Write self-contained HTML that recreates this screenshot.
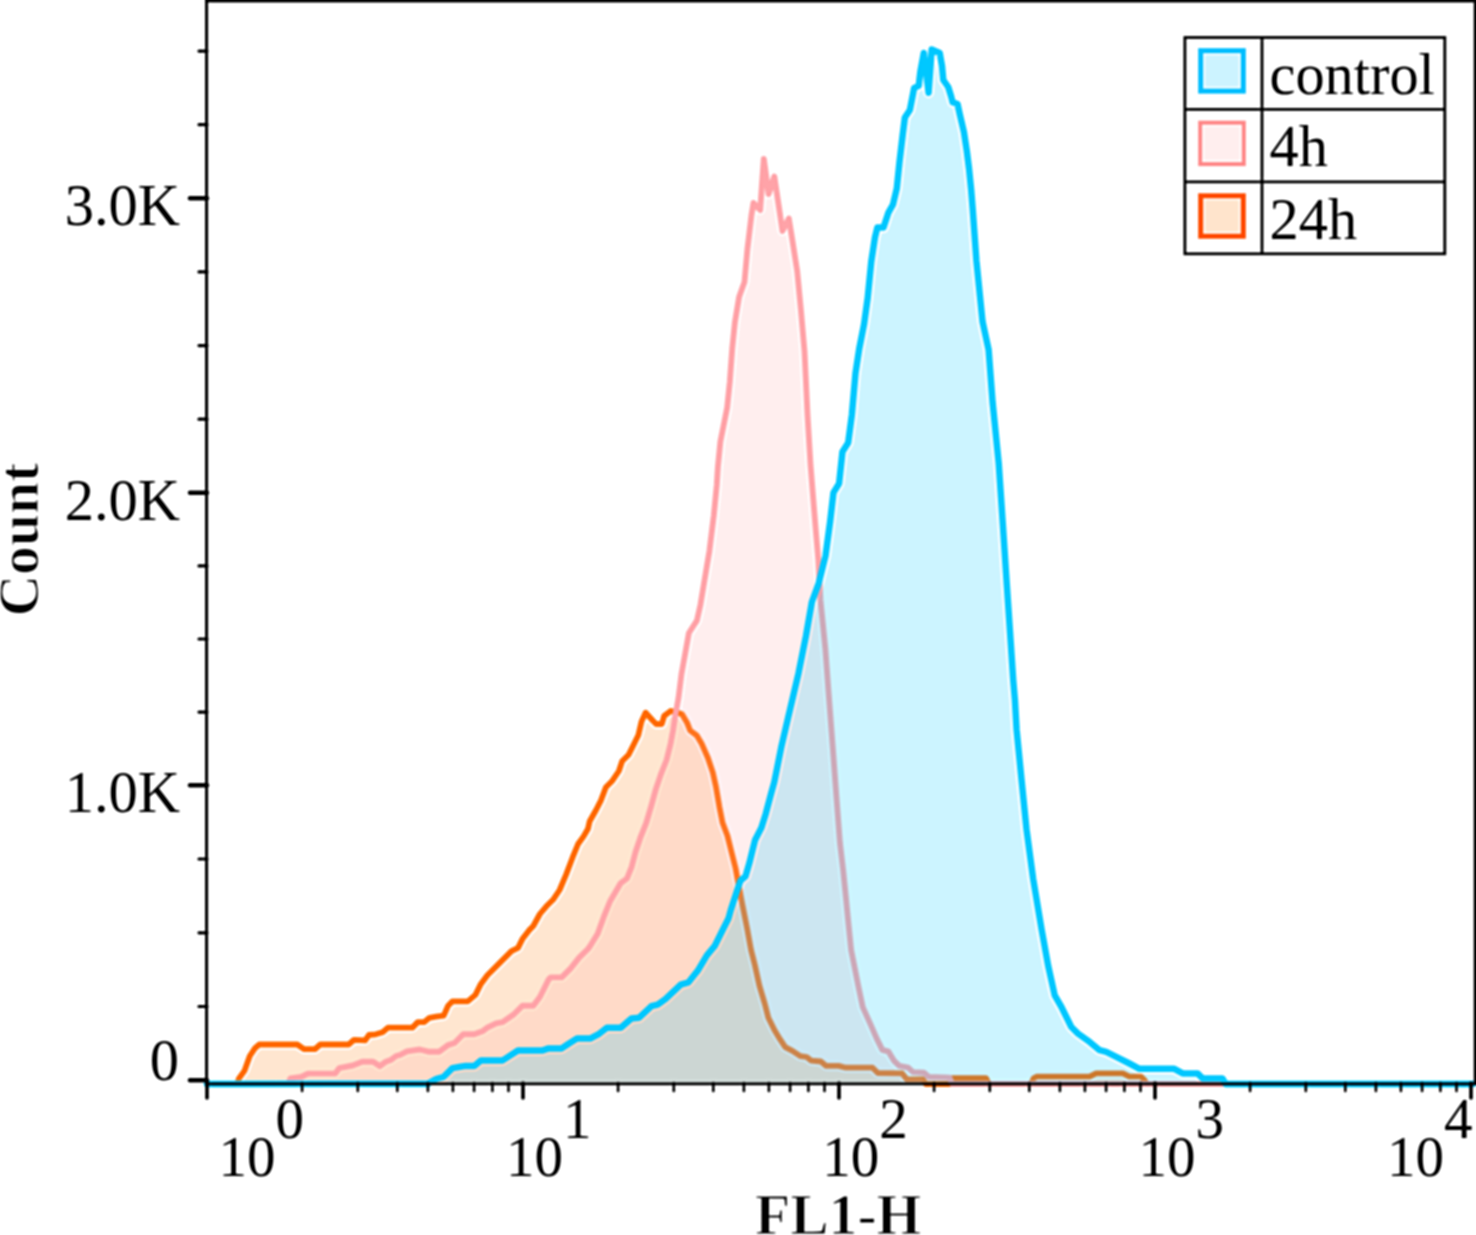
<!DOCTYPE html>
<html><head><meta charset="utf-8"><style>
html,body{margin:0;padding:0;background:#fff;}
body{width:1476px;height:1235px;overflow:hidden;position:relative;}
svg{position:absolute;left:0;top:0;display:block;}
</style></head><body>
<svg width="1476" height="1235" viewBox="0 0 1476 1235">
<defs><filter id="usm" x="-12" y="-12" width="1500" height="1259" filterUnits="userSpaceOnUse" color-interpolation-filters="sRGB">
<feGaussianBlur in="SourceGraphic" stdDeviation="1.0" result="a"/>
<feGaussianBlur in="SourceGraphic" stdDeviation="2.2" result="b"/>
<feComposite in="a" in2="b" operator="arithmetic" k1="0" k2="1.35" k3="-0.35" k4="0"/>
</filter></defs>
<rect width="1476" height="1235" fill="#fff"/>
<g filter="url(#usm)">
<rect x="-12" y="-12" width="1500" height="1259" fill="#fff"/>
<mask id="mask0" maskUnits="userSpaceOnUse" x="0" y="0" width="1476" height="1235"><path d="M237.0,1084 L237.0,1084.0 L239.0,1078.4 L244.4,1070.9 L249.8,1056.0 L255.2,1047.9 L259.3,1044.5 L297.2,1044.5 L304.0,1049.2 L314.9,1049.2 L320.3,1044.5 L348.7,1044.5 L354.1,1039.8 L365.0,1040.4 L369.0,1035.0 L375.8,1034.3 L382.6,1032.3 L388.0,1027.6 L412.4,1027.6 L417.8,1022.1 L424.0,1022.2 L429.5,1017.8 L436.1,1016.7 L443.7,1015.6 L448.1,1005.8 L452.5,1001.4 L467.8,1001.4 L475.4,994.9 L480.9,983.9 L487.4,975.2 L500.5,962.1 L511.5,951.1 L518.0,947.9 L522.4,939.1 L529.0,930.4 L533.3,926.0 L539.9,914.0 L546.4,906.3 L553.0,899.8 L559.6,890.0 L566.1,874.6 L572.7,857.2 L578.1,844.0 L583.6,836.4 L588.0,828.7 L589.7,821.2 L596.2,809.8 L601.1,800.1 L605.9,787.2 L612.4,780.7 L618.9,771.0 L622.1,761.3 L628.6,754.8 L635.1,741.8 L638.3,735.3 L641.5,721.6 L645.6,712.7 L652.9,720.8 L656.1,724.0 L661.8,724.0 L664.2,715.9 L670.7,711.0 L675.5,711.9 L682.0,714.3 L686.9,722.4 L690.1,730.5 L696.6,735.3 L701.5,743.4 L707.9,758.0 L712.8,772.6 L716.0,787.2 L719.3,806.6 L722.5,822.8 L727.4,835.7 L731.4,851.9 L735.5,868.1 L737.9,881.1 L739.5,890.0 L742.4,905.0 L747.0,928.0 L751.0,950.0 L754.8,965.0 L759.4,985.8 L764.7,1003.6 L768.3,1017.8 L774.5,1030.3 L779.9,1039.2 L785.2,1047.2 L792.3,1050.8 L800.3,1056.1 L806.6,1057.0 L811.0,1060.6 L820.8,1061.5 L826.2,1065.9 L838.6,1065.9 L845.8,1067.7 L872.5,1067.7 L877.8,1073.0 L902.0,1073.3 L906.8,1079.4 L922.7,1079.4 L926.0,1084.0 L950.0,1084.0 L952.0,1078.2 L986.0,1078.2 L989.0,1084.0 L1031.0,1084.0 L1033.7,1078.2 L1036.5,1076.7 L1089.6,1076.7 L1096.2,1073.4 L1122.8,1073.4 L1129.4,1076.7 L1141.1,1076.7 L1144.4,1080.0 L1147.0,1084.0 L1471.0,1084.0 L1471.0,1084 Z" fill="#fff"/><polyline points="237.0,1084.0 239.0,1078.4 244.4,1070.9 249.8,1056.0 255.2,1047.9 259.3,1044.5 297.2,1044.5 304.0,1049.2 314.9,1049.2 320.3,1044.5 348.7,1044.5 354.1,1039.8 365.0,1040.4 369.0,1035.0 375.8,1034.3 382.6,1032.3 388.0,1027.6 412.4,1027.6 417.8,1022.1 424.0,1022.2 429.5,1017.8 436.1,1016.7 443.7,1015.6 448.1,1005.8 452.5,1001.4 467.8,1001.4 475.4,994.9 480.9,983.9 487.4,975.2 500.5,962.1 511.5,951.1 518.0,947.9 522.4,939.1 529.0,930.4 533.3,926.0 539.9,914.0 546.4,906.3 553.0,899.8 559.6,890.0 566.1,874.6 572.7,857.2 578.1,844.0 583.6,836.4 588.0,828.7 589.7,821.2 596.2,809.8 601.1,800.1 605.9,787.2 612.4,780.7 618.9,771.0 622.1,761.3 628.6,754.8 635.1,741.8 638.3,735.3 641.5,721.6 645.6,712.7 652.9,720.8 656.1,724.0 661.8,724.0 664.2,715.9 670.7,711.0 675.5,711.9 682.0,714.3 686.9,722.4 690.1,730.5 696.6,735.3 701.5,743.4 707.9,758.0 712.8,772.6 716.0,787.2 719.3,806.6 722.5,822.8 727.4,835.7 731.4,851.9 735.5,868.1 737.9,881.1 739.5,890.0 742.4,905.0 747.0,928.0 751.0,950.0 754.8,965.0 759.4,985.8 764.7,1003.6 768.3,1017.8 774.5,1030.3 779.9,1039.2 785.2,1047.2 792.3,1050.8 800.3,1056.1 806.6,1057.0 811.0,1060.6 820.8,1061.5 826.2,1065.9 838.6,1065.9 845.8,1067.7 872.5,1067.7 877.8,1073.0 902.0,1073.3 906.8,1079.4 922.7,1079.4 926.0,1084.0 950.0,1084.0 952.0,1078.2 986.0,1078.2 989.0,1084.0 1031.0,1084.0 1033.7,1078.2 1036.5,1076.7 1089.6,1076.7 1096.2,1073.4 1122.8,1073.4 1129.4,1076.7 1141.1,1076.7 1144.4,1080.0 1147.0,1084.0 1471.0,1084.0" fill="none" stroke="#000" stroke-width="9.8" stroke-linejoin="round" stroke-linecap="round"/></mask>
<path d="M237.0,1084 L237.0,1084.0 L239.0,1078.4 L244.4,1070.9 L249.8,1056.0 L255.2,1047.9 L259.3,1044.5 L297.2,1044.5 L304.0,1049.2 L314.9,1049.2 L320.3,1044.5 L348.7,1044.5 L354.1,1039.8 L365.0,1040.4 L369.0,1035.0 L375.8,1034.3 L382.6,1032.3 L388.0,1027.6 L412.4,1027.6 L417.8,1022.1 L424.0,1022.2 L429.5,1017.8 L436.1,1016.7 L443.7,1015.6 L448.1,1005.8 L452.5,1001.4 L467.8,1001.4 L475.4,994.9 L480.9,983.9 L487.4,975.2 L500.5,962.1 L511.5,951.1 L518.0,947.9 L522.4,939.1 L529.0,930.4 L533.3,926.0 L539.9,914.0 L546.4,906.3 L553.0,899.8 L559.6,890.0 L566.1,874.6 L572.7,857.2 L578.1,844.0 L583.6,836.4 L588.0,828.7 L589.7,821.2 L596.2,809.8 L601.1,800.1 L605.9,787.2 L612.4,780.7 L618.9,771.0 L622.1,761.3 L628.6,754.8 L635.1,741.8 L638.3,735.3 L641.5,721.6 L645.6,712.7 L652.9,720.8 L656.1,724.0 L661.8,724.0 L664.2,715.9 L670.7,711.0 L675.5,711.9 L682.0,714.3 L686.9,722.4 L690.1,730.5 L696.6,735.3 L701.5,743.4 L707.9,758.0 L712.8,772.6 L716.0,787.2 L719.3,806.6 L722.5,822.8 L727.4,835.7 L731.4,851.9 L735.5,868.1 L737.9,881.1 L739.5,890.0 L742.4,905.0 L747.0,928.0 L751.0,950.0 L754.8,965.0 L759.4,985.8 L764.7,1003.6 L768.3,1017.8 L774.5,1030.3 L779.9,1039.2 L785.2,1047.2 L792.3,1050.8 L800.3,1056.1 L806.6,1057.0 L811.0,1060.6 L820.8,1061.5 L826.2,1065.9 L838.6,1065.9 L845.8,1067.7 L872.5,1067.7 L877.8,1073.0 L902.0,1073.3 L906.8,1079.4 L922.7,1079.4 L926.0,1084.0 L950.0,1084.0 L952.0,1078.2 L986.0,1078.2 L989.0,1084.0 L1031.0,1084.0 L1033.7,1078.2 L1036.5,1076.7 L1089.6,1076.7 L1096.2,1073.4 L1122.8,1073.4 L1129.4,1076.7 L1141.1,1076.7 L1144.4,1080.0 L1147.0,1084.0 L1471.0,1084.0 L1471.0,1084 Z" fill="rgb(255,130,20)" fill-opacity="0.2" stroke="none" mask="url(#mask0)"/>
<polyline points="237.0,1084.0 239.0,1078.4 244.4,1070.9 249.8,1056.0 255.2,1047.9 259.3,1044.5 297.2,1044.5 304.0,1049.2 314.9,1049.2 320.3,1044.5 348.7,1044.5 354.1,1039.8 365.0,1040.4 369.0,1035.0 375.8,1034.3 382.6,1032.3 388.0,1027.6 412.4,1027.6 417.8,1022.1 424.0,1022.2 429.5,1017.8 436.1,1016.7 443.7,1015.6 448.1,1005.8 452.5,1001.4 467.8,1001.4 475.4,994.9 480.9,983.9 487.4,975.2 500.5,962.1 511.5,951.1 518.0,947.9 522.4,939.1 529.0,930.4 533.3,926.0 539.9,914.0 546.4,906.3 553.0,899.8 559.6,890.0 566.1,874.6 572.7,857.2 578.1,844.0 583.6,836.4 588.0,828.7 589.7,821.2 596.2,809.8 601.1,800.1 605.9,787.2 612.4,780.7 618.9,771.0 622.1,761.3 628.6,754.8 635.1,741.8 638.3,735.3 641.5,721.6 645.6,712.7 652.9,720.8 656.1,724.0 661.8,724.0 664.2,715.9 670.7,711.0 675.5,711.9 682.0,714.3 686.9,722.4 690.1,730.5 696.6,735.3 701.5,743.4 707.9,758.0 712.8,772.6 716.0,787.2 719.3,806.6 722.5,822.8 727.4,835.7 731.4,851.9 735.5,868.1 737.9,881.1 739.5,890.0 742.4,905.0 747.0,928.0 751.0,950.0 754.8,965.0 759.4,985.8 764.7,1003.6 768.3,1017.8 774.5,1030.3 779.9,1039.2 785.2,1047.2 792.3,1050.8 800.3,1056.1 806.6,1057.0 811.0,1060.6 820.8,1061.5 826.2,1065.9 838.6,1065.9 845.8,1067.7 872.5,1067.7 877.8,1073.0 902.0,1073.3 906.8,1079.4 922.7,1079.4 926.0,1084.0 950.0,1084.0 952.0,1078.2 986.0,1078.2 989.0,1084.0 1031.0,1084.0 1033.7,1078.2 1036.5,1076.7 1089.6,1076.7 1096.2,1073.4 1122.8,1073.4 1129.4,1076.7 1141.1,1076.7 1144.4,1080.0 1147.0,1084.0 1471.0,1084.0" fill="none" stroke="#ff6a00" stroke-width="5.8" stroke-linejoin="round" stroke-linecap="round"/>
<mask id="mask3" maskUnits="userSpaceOnUse" x="0" y="0" width="1476" height="1235"><path d="M288.0,1084 L288.0,1084.0 L290.5,1078.4 L301.3,1077.0 L308.0,1073.6 L335.2,1073.6 L339.2,1068.2 L352.8,1065.5 L362.3,1061.8 L373.1,1061.8 L379.9,1066.2 L385.3,1062.1 L390.7,1060.1 L396.2,1056.0 L400.0,1055.0 L407.0,1051.3 L419.7,1049.5 L428.4,1051.7 L439.3,1051.7 L448.1,1045.1 L454.6,1043.0 L463.4,1034.2 L474.3,1034.2 L483.1,1030.9 L487.4,1027.7 L496.2,1023.3 L502.7,1022.2 L513.7,1014.5 L522.4,1005.8 L533.3,1005.8 L539.9,997.0 L548.6,979.6 L550.8,977.4 L561.7,977.4 L570.5,968.6 L579.2,957.7 L588.0,949.0 L590.0,946.2 L597.7,933.8 L603.8,916.9 L610.0,901.5 L620.8,883.1 L627.0,878.5 L631.7,866.8 L635.5,852.2 L640.4,837.7 L646.2,823.1 L651.1,806.6 L655.9,789.1 L660.8,774.6 L666.6,760.0 L670.7,743.4 L673.1,730.5 L675.5,714.3 L678.5,698.0 L681.5,674.0 L684.4,658.0 L688.9,633.0 L696.9,620.6 L700.5,604.6 L704.9,577.9 L709.4,551.2 L713.8,515.6 L716.8,485.0 L717.9,467.0 L720.4,441.6 L723.8,424.6 L727.2,407.6 L729.8,382.0 L732.3,348.0 L734.9,322.5 L739.1,297.0 L744.5,282.0 L747.4,249.4 L751.5,215.0 L753.5,203.0 L760.2,210.0 L763.8,159.0 L768.6,194.0 L774.3,176.5 L782.5,231.0 L788.8,218.5 L792.3,240.0 L797.2,271.2 L800.9,310.1 L804.5,351.4 L806.0,383.0 L807.5,415.0 L810.5,464.8 L813.1,497.2 L815.7,529.5 L818.3,560.0 L820.4,600.0 L825.3,648.6 L828.9,697.2 L832.6,745.7 L836.2,794.3 L839.9,842.9 L843.1,870.0 L845.8,896.7 L848.4,923.4 L851.1,950.1 L854.7,968.0 L858.2,985.8 L862.7,1007.1 L870.7,1024.9 L876.9,1039.2 L882.3,1049.9 L888.5,1051.7 L893.8,1060.6 L899.2,1065.9 L908.1,1067.7 L912.9,1072.1 L923.9,1072.7 L928.8,1077.0 L949.5,1077.6 L952.0,1084.0 L1471.0,1084.0 L1471.0,1084 Z" fill="#fff"/><polyline points="288.0,1084.0 290.5,1078.4 301.3,1077.0 308.0,1073.6 335.2,1073.6 339.2,1068.2 352.8,1065.5 362.3,1061.8 373.1,1061.8 379.9,1066.2 385.3,1062.1 390.7,1060.1 396.2,1056.0 400.0,1055.0 407.0,1051.3 419.7,1049.5 428.4,1051.7 439.3,1051.7 448.1,1045.1 454.6,1043.0 463.4,1034.2 474.3,1034.2 483.1,1030.9 487.4,1027.7 496.2,1023.3 502.7,1022.2 513.7,1014.5 522.4,1005.8 533.3,1005.8 539.9,997.0 548.6,979.6 550.8,977.4 561.7,977.4 570.5,968.6 579.2,957.7 588.0,949.0 590.0,946.2 597.7,933.8 603.8,916.9 610.0,901.5 620.8,883.1 627.0,878.5 631.7,866.8 635.5,852.2 640.4,837.7 646.2,823.1 651.1,806.6 655.9,789.1 660.8,774.6 666.6,760.0 670.7,743.4 673.1,730.5 675.5,714.3 678.5,698.0 681.5,674.0 684.4,658.0 688.9,633.0 696.9,620.6 700.5,604.6 704.9,577.9 709.4,551.2 713.8,515.6 716.8,485.0 717.9,467.0 720.4,441.6 723.8,424.6 727.2,407.6 729.8,382.0 732.3,348.0 734.9,322.5 739.1,297.0 744.5,282.0 747.4,249.4 751.5,215.0 753.5,203.0 760.2,210.0 763.8,159.0 768.6,194.0 774.3,176.5 782.5,231.0 788.8,218.5 792.3,240.0 797.2,271.2 800.9,310.1 804.5,351.4 806.0,383.0 807.5,415.0 810.5,464.8 813.1,497.2 815.7,529.5 818.3,560.0 820.4,600.0 825.3,648.6 828.9,697.2 832.6,745.7 836.2,794.3 839.9,842.9 843.1,870.0 845.8,896.7 848.4,923.4 851.1,950.1 854.7,968.0 858.2,985.8 862.7,1007.1 870.7,1024.9 876.9,1039.2 882.3,1049.9 888.5,1051.7 893.8,1060.6 899.2,1065.9 908.1,1067.7 912.9,1072.1 923.9,1072.7 928.8,1077.0 949.5,1077.6 952.0,1084.0 1471.0,1084.0" fill="none" stroke="#000" stroke-width="9.9" stroke-linejoin="round" stroke-linecap="round"/></mask>
<path d="M288.0,1084 L288.0,1084.0 L290.5,1078.4 L301.3,1077.0 L308.0,1073.6 L335.2,1073.6 L339.2,1068.2 L352.8,1065.5 L362.3,1061.8 L373.1,1061.8 L379.9,1066.2 L385.3,1062.1 L390.7,1060.1 L396.2,1056.0 L400.0,1055.0 L407.0,1051.3 L419.7,1049.5 L428.4,1051.7 L439.3,1051.7 L448.1,1045.1 L454.6,1043.0 L463.4,1034.2 L474.3,1034.2 L483.1,1030.9 L487.4,1027.7 L496.2,1023.3 L502.7,1022.2 L513.7,1014.5 L522.4,1005.8 L533.3,1005.8 L539.9,997.0 L548.6,979.6 L550.8,977.4 L561.7,977.4 L570.5,968.6 L579.2,957.7 L588.0,949.0 L590.0,946.2 L597.7,933.8 L603.8,916.9 L610.0,901.5 L620.8,883.1 L627.0,878.5 L631.7,866.8 L635.5,852.2 L640.4,837.7 L646.2,823.1 L651.1,806.6 L655.9,789.1 L660.8,774.6 L666.6,760.0 L670.7,743.4 L673.1,730.5 L675.5,714.3 L678.5,698.0 L681.5,674.0 L684.4,658.0 L688.9,633.0 L696.9,620.6 L700.5,604.6 L704.9,577.9 L709.4,551.2 L713.8,515.6 L716.8,485.0 L717.9,467.0 L720.4,441.6 L723.8,424.6 L727.2,407.6 L729.8,382.0 L732.3,348.0 L734.9,322.5 L739.1,297.0 L744.5,282.0 L747.4,249.4 L751.5,215.0 L753.5,203.0 L760.2,210.0 L763.8,159.0 L768.6,194.0 L774.3,176.5 L782.5,231.0 L788.8,218.5 L792.3,240.0 L797.2,271.2 L800.9,310.1 L804.5,351.4 L806.0,383.0 L807.5,415.0 L810.5,464.8 L813.1,497.2 L815.7,529.5 L818.3,560.0 L820.4,600.0 L825.3,648.6 L828.9,697.2 L832.6,745.7 L836.2,794.3 L839.9,842.9 L843.1,870.0 L845.8,896.7 L848.4,923.4 L851.1,950.1 L854.7,968.0 L858.2,985.8 L862.7,1007.1 L870.7,1024.9 L876.9,1039.2 L882.3,1049.9 L888.5,1051.7 L893.8,1060.6 L899.2,1065.9 L908.1,1067.7 L912.9,1072.1 L923.9,1072.7 L928.8,1077.0 L949.5,1077.6 L952.0,1084.0 L1471.0,1084.0 L1471.0,1084 Z" fill="rgb(255,170,170)" fill-opacity="0.2" stroke="none" mask="url(#mask3)"/>
<polyline points="288.0,1084.0 290.5,1078.4 301.3,1077.0 308.0,1073.6 335.2,1073.6 339.2,1068.2 352.8,1065.5 362.3,1061.8 373.1,1061.8 379.9,1066.2 385.3,1062.1 390.7,1060.1 396.2,1056.0 400.0,1055.0 407.0,1051.3 419.7,1049.5 428.4,1051.7 439.3,1051.7 448.1,1045.1 454.6,1043.0 463.4,1034.2 474.3,1034.2 483.1,1030.9 487.4,1027.7 496.2,1023.3 502.7,1022.2 513.7,1014.5 522.4,1005.8 533.3,1005.8 539.9,997.0 548.6,979.6 550.8,977.4 561.7,977.4 570.5,968.6 579.2,957.7 588.0,949.0 590.0,946.2 597.7,933.8 603.8,916.9 610.0,901.5 620.8,883.1 627.0,878.5 631.7,866.8 635.5,852.2 640.4,837.7 646.2,823.1 651.1,806.6 655.9,789.1 660.8,774.6 666.6,760.0 670.7,743.4 673.1,730.5 675.5,714.3 678.5,698.0 681.5,674.0 684.4,658.0 688.9,633.0 696.9,620.6 700.5,604.6 704.9,577.9 709.4,551.2 713.8,515.6 716.8,485.0 717.9,467.0 720.4,441.6 723.8,424.6 727.2,407.6 729.8,382.0 732.3,348.0 734.9,322.5 739.1,297.0 744.5,282.0 747.4,249.4 751.5,215.0 753.5,203.0 760.2,210.0 763.8,159.0 768.6,194.0 774.3,176.5 782.5,231.0 788.8,218.5 792.3,240.0 797.2,271.2 800.9,310.1 804.5,351.4 806.0,383.0 807.5,415.0 810.5,464.8 813.1,497.2 815.7,529.5 818.3,560.0 820.4,600.0 825.3,648.6 828.9,697.2 832.6,745.7 836.2,794.3 839.9,842.9 843.1,870.0 845.8,896.7 848.4,923.4 851.1,950.1 854.7,968.0 858.2,985.8 862.7,1007.1 870.7,1024.9 876.9,1039.2 882.3,1049.9 888.5,1051.7 893.8,1060.6 899.2,1065.9 908.1,1067.7 912.9,1072.1 923.9,1072.7 928.8,1077.0 949.5,1077.6 952.0,1084.0 1471.0,1084.0" fill="none" stroke="#ffa3a8" stroke-width="5.9" stroke-linejoin="round" stroke-linecap="round"/>
<mask id="mask6" maskUnits="userSpaceOnUse" x="0" y="0" width="1476" height="1235"><path d="M207.0,1084 L207.0,1084.0 L428.4,1083.4 L436.1,1079.0 L443.7,1076.8 L452.5,1068.1 L459.0,1067.0 L465.6,1065.9 L474.3,1065.9 L480.9,1060.4 L502.7,1060.4 L509.3,1056.1 L518.0,1050.6 L542.1,1050.6 L548.6,1048.4 L561.7,1048.4 L568.3,1044.0 L577.0,1038.6 L590.2,1038.6 L599.2,1033.8 L606.9,1027.7 L620.8,1027.7 L631.5,1018.5 L639.2,1017.7 L651.5,1006.2 L657.7,1004.6 L665.4,999.2 L680.8,984.6 L688.5,982.3 L697.7,970.8 L706.9,955.4 L714.6,946.2 L722.3,930.8 L728.5,918.5 L730.8,910.0 L737.0,891.0 L740.4,880.8 L745.5,876.3 L749.5,862.7 L752.3,851.3 L755.1,840.0 L761.4,827.7 L765.8,813.7 L771.1,793.6 L774.3,782.2 L781.6,745.7 L790.1,709.3 L798.6,672.9 L805.9,636.4 L811.9,602.0 L818.7,583.3 L825.5,556.0 L830.1,522.0 L833.5,492.6 L839.1,483.5 L842.5,451.7 L848.2,442.7 L851.9,414.6 L855.5,373.3 L859.2,349.0 L864.0,324.7 L867.7,298.0 L871.3,261.5 L875.0,237.2 L877.4,227.5 L883.5,227.5 L888.3,212.9 L893.0,204.5 L896.8,188.6 L899.5,162.0 L902.7,135.0 L904.9,117.5 L909.9,110.0 L914.2,87.9 L918.7,85.9 L920.4,71.7 L923.8,53.0 L928.6,92.7 L931.7,49.6 L939.7,53.0 L942.0,66.0 L943.3,80.0 L948.2,87.0 L951.0,96.0 L952.7,102.3 L957.5,104.0 L959.8,114.5 L963.9,132.0 L966.8,151.0 L969.0,168.5 L971.2,190.3 L972.7,209.3 L976.4,260.7 L982.5,321.5 L988.6,349.8 L992.6,402.4 L998.7,463.2 L1002.8,523.9 L1006.8,584.6 L1010.9,645.3 L1013.2,680.0 L1014.9,700.0 L1016.6,729.8 L1021.5,779.6 L1026.5,829.4 L1033.2,879.2 L1041.5,929.0 L1048.1,965.5 L1054.7,995.4 L1061.4,1007.0 L1071.3,1027.0 L1078.0,1033.6 L1089.6,1041.9 L1099.6,1050.2 L1106.2,1051.8 L1116.2,1056.8 L1129.4,1063.5 L1139.4,1068.8 L1174.3,1068.8 L1182.6,1073.4 L1197.5,1073.4 L1202.5,1078.4 L1222.4,1078.4 L1225.7,1084.0 L1473.0,1084.0 L1473.0,1084 Z" fill="#fff"/><polyline points="207.0,1084.0 428.4,1083.4 436.1,1079.0 443.7,1076.8 452.5,1068.1 459.0,1067.0 465.6,1065.9 474.3,1065.9 480.9,1060.4 502.7,1060.4 509.3,1056.1 518.0,1050.6 542.1,1050.6 548.6,1048.4 561.7,1048.4 568.3,1044.0 577.0,1038.6 590.2,1038.6 599.2,1033.8 606.9,1027.7 620.8,1027.7 631.5,1018.5 639.2,1017.7 651.5,1006.2 657.7,1004.6 665.4,999.2 680.8,984.6 688.5,982.3 697.7,970.8 706.9,955.4 714.6,946.2 722.3,930.8 728.5,918.5 730.8,910.0 737.0,891.0 740.4,880.8 745.5,876.3 749.5,862.7 752.3,851.3 755.1,840.0 761.4,827.7 765.8,813.7 771.1,793.6 774.3,782.2 781.6,745.7 790.1,709.3 798.6,672.9 805.9,636.4 811.9,602.0 818.7,583.3 825.5,556.0 830.1,522.0 833.5,492.6 839.1,483.5 842.5,451.7 848.2,442.7 851.9,414.6 855.5,373.3 859.2,349.0 864.0,324.7 867.7,298.0 871.3,261.5 875.0,237.2 877.4,227.5 883.5,227.5 888.3,212.9 893.0,204.5 896.8,188.6 899.5,162.0 902.7,135.0 904.9,117.5 909.9,110.0 914.2,87.9 918.7,85.9 920.4,71.7 923.8,53.0 928.6,92.7 931.7,49.6 939.7,53.0 942.0,66.0 943.3,80.0 948.2,87.0 951.0,96.0 952.7,102.3 957.5,104.0 959.8,114.5 963.9,132.0 966.8,151.0 969.0,168.5 971.2,190.3 972.7,209.3 976.4,260.7 982.5,321.5 988.6,349.8 992.6,402.4 998.7,463.2 1002.8,523.9 1006.8,584.6 1010.9,645.3 1013.2,680.0 1014.9,700.0 1016.6,729.8 1021.5,779.6 1026.5,829.4 1033.2,879.2 1041.5,929.0 1048.1,965.5 1054.7,995.4 1061.4,1007.0 1071.3,1027.0 1078.0,1033.6 1089.6,1041.9 1099.6,1050.2 1106.2,1051.8 1116.2,1056.8 1129.4,1063.5 1139.4,1068.8 1174.3,1068.8 1182.6,1073.4 1197.5,1073.4 1202.5,1078.4 1222.4,1078.4 1225.7,1084.0 1473.0,1084.0" fill="none" stroke="#000" stroke-width="10.5" stroke-linejoin="round" stroke-linecap="round"/></mask>
<path d="M207.0,1084 L207.0,1084.0 L428.4,1083.4 L436.1,1079.0 L443.7,1076.8 L452.5,1068.1 L459.0,1067.0 L465.6,1065.9 L474.3,1065.9 L480.9,1060.4 L502.7,1060.4 L509.3,1056.1 L518.0,1050.6 L542.1,1050.6 L548.6,1048.4 L561.7,1048.4 L568.3,1044.0 L577.0,1038.6 L590.2,1038.6 L599.2,1033.8 L606.9,1027.7 L620.8,1027.7 L631.5,1018.5 L639.2,1017.7 L651.5,1006.2 L657.7,1004.6 L665.4,999.2 L680.8,984.6 L688.5,982.3 L697.7,970.8 L706.9,955.4 L714.6,946.2 L722.3,930.8 L728.5,918.5 L730.8,910.0 L737.0,891.0 L740.4,880.8 L745.5,876.3 L749.5,862.7 L752.3,851.3 L755.1,840.0 L761.4,827.7 L765.8,813.7 L771.1,793.6 L774.3,782.2 L781.6,745.7 L790.1,709.3 L798.6,672.9 L805.9,636.4 L811.9,602.0 L818.7,583.3 L825.5,556.0 L830.1,522.0 L833.5,492.6 L839.1,483.5 L842.5,451.7 L848.2,442.7 L851.9,414.6 L855.5,373.3 L859.2,349.0 L864.0,324.7 L867.7,298.0 L871.3,261.5 L875.0,237.2 L877.4,227.5 L883.5,227.5 L888.3,212.9 L893.0,204.5 L896.8,188.6 L899.5,162.0 L902.7,135.0 L904.9,117.5 L909.9,110.0 L914.2,87.9 L918.7,85.9 L920.4,71.7 L923.8,53.0 L928.6,92.7 L931.7,49.6 L939.7,53.0 L942.0,66.0 L943.3,80.0 L948.2,87.0 L951.0,96.0 L952.7,102.3 L957.5,104.0 L959.8,114.5 L963.9,132.0 L966.8,151.0 L969.0,168.5 L971.2,190.3 L972.7,209.3 L976.4,260.7 L982.5,321.5 L988.6,349.8 L992.6,402.4 L998.7,463.2 L1002.8,523.9 L1006.8,584.6 L1010.9,645.3 L1013.2,680.0 L1014.9,700.0 L1016.6,729.8 L1021.5,779.6 L1026.5,829.4 L1033.2,879.2 L1041.5,929.0 L1048.1,965.5 L1054.7,995.4 L1061.4,1007.0 L1071.3,1027.0 L1078.0,1033.6 L1089.6,1041.9 L1099.6,1050.2 L1106.2,1051.8 L1116.2,1056.8 L1129.4,1063.5 L1139.4,1068.8 L1174.3,1068.8 L1182.6,1073.4 L1197.5,1073.4 L1202.5,1078.4 L1222.4,1078.4 L1225.7,1084.0 L1473.0,1084.0 L1473.0,1084 Z" fill="rgb(0,200,255)" fill-opacity="0.2" stroke="none" mask="url(#mask6)"/>
<polyline points="207.0,1084.0 428.4,1083.4 436.1,1079.0 443.7,1076.8 452.5,1068.1 459.0,1067.0 465.6,1065.9 474.3,1065.9 480.9,1060.4 502.7,1060.4 509.3,1056.1 518.0,1050.6 542.1,1050.6 548.6,1048.4 561.7,1048.4 568.3,1044.0 577.0,1038.6 590.2,1038.6 599.2,1033.8 606.9,1027.7 620.8,1027.7 631.5,1018.5 639.2,1017.7 651.5,1006.2 657.7,1004.6 665.4,999.2 680.8,984.6 688.5,982.3 697.7,970.8 706.9,955.4 714.6,946.2 722.3,930.8 728.5,918.5 730.8,910.0 737.0,891.0 740.4,880.8 745.5,876.3 749.5,862.7 752.3,851.3 755.1,840.0 761.4,827.7 765.8,813.7 771.1,793.6 774.3,782.2 781.6,745.7 790.1,709.3 798.6,672.9 805.9,636.4 811.9,602.0 818.7,583.3 825.5,556.0 830.1,522.0 833.5,492.6 839.1,483.5 842.5,451.7 848.2,442.7 851.9,414.6 855.5,373.3 859.2,349.0 864.0,324.7 867.7,298.0 871.3,261.5 875.0,237.2 877.4,227.5 883.5,227.5 888.3,212.9 893.0,204.5 896.8,188.6 899.5,162.0 902.7,135.0 904.9,117.5 909.9,110.0 914.2,87.9 918.7,85.9 920.4,71.7 923.8,53.0 928.6,92.7 931.7,49.6 939.7,53.0 942.0,66.0 943.3,80.0 948.2,87.0 951.0,96.0 952.7,102.3 957.5,104.0 959.8,114.5 963.9,132.0 966.8,151.0 969.0,168.5 971.2,190.3 972.7,209.3 976.4,260.7 982.5,321.5 988.6,349.8 992.6,402.4 998.7,463.2 1002.8,523.9 1006.8,584.6 1010.9,645.3 1013.2,680.0 1014.9,700.0 1016.6,729.8 1021.5,779.6 1026.5,829.4 1033.2,879.2 1041.5,929.0 1048.1,965.5 1054.7,995.4 1061.4,1007.0 1071.3,1027.0 1078.0,1033.6 1089.6,1041.9 1099.6,1050.2 1106.2,1051.8 1116.2,1056.8 1129.4,1063.5 1139.4,1068.8 1174.3,1068.8 1182.6,1073.4 1197.5,1073.4 1202.5,1078.4 1222.4,1078.4 1225.7,1084.0 1473.0,1084.0" fill="none" stroke="#00c8ff" stroke-width="6.5" stroke-linejoin="round" stroke-linecap="round"/>
<line x1="207" y1="1084" x2="430" y2="1084" stroke="#00c8ff" stroke-width="6.6"/>
<line x1="1225" y1="1084" x2="1473" y2="1084" stroke="#00c8ff" stroke-width="6.6"/>
<rect x="205.1" y="-6" width="1280" height="8.5" fill="#000"/>
<line x1="206.6" y1="-6" x2="206.6" y2="1085" stroke="#000" stroke-width="3"/>
<rect x="1473.7" y="-6" width="12" height="1091" fill="#000"/>
<line x1="205" y1="1083.8" x2="1485" y2="1083.8" stroke="#000" stroke-width="2.8"/>
<line x1="190" y1="198.3" x2="207" y2="198.3" stroke="#000" stroke-width="4.4" stroke-linecap="round"/>
<line x1="190" y1="492.8" x2="207" y2="492.8" stroke="#000" stroke-width="4.4" stroke-linecap="round"/>
<line x1="190" y1="785.2" x2="207" y2="785.2" stroke="#000" stroke-width="4.4" stroke-linecap="round"/>
<line x1="190" y1="1080.3" x2="207" y2="1080.3" stroke="#000" stroke-width="4.4" stroke-linecap="round"/>
<line x1="199" y1="271.9" x2="207" y2="271.9" stroke="#000" stroke-width="3.2" stroke-linecap="round"/>
<line x1="199" y1="345.6" x2="207" y2="345.6" stroke="#000" stroke-width="3.2" stroke-linecap="round"/>
<line x1="199" y1="419.2" x2="207" y2="419.2" stroke="#000" stroke-width="3.2" stroke-linecap="round"/>
<line x1="199" y1="565.9" x2="207" y2="565.9" stroke="#000" stroke-width="3.2" stroke-linecap="round"/>
<line x1="199" y1="639.0" x2="207" y2="639.0" stroke="#000" stroke-width="3.2" stroke-linecap="round"/>
<line x1="199" y1="712.1" x2="207" y2="712.1" stroke="#000" stroke-width="3.2" stroke-linecap="round"/>
<line x1="199" y1="859.0" x2="207" y2="859.0" stroke="#000" stroke-width="3.2" stroke-linecap="round"/>
<line x1="199" y1="932.8" x2="207" y2="932.8" stroke="#000" stroke-width="3.2" stroke-linecap="round"/>
<line x1="199" y1="1006.5" x2="207" y2="1006.5" stroke="#000" stroke-width="3.2" stroke-linecap="round"/>
<line x1="199" y1="124.7" x2="207" y2="124.7" stroke="#000" stroke-width="3.2" stroke-linecap="round"/>
<line x1="199" y1="51.1" x2="207" y2="51.1" stroke="#000" stroke-width="3.2" stroke-linecap="round"/>
<line x1="207" y1="1083" x2="207" y2="1098" stroke="#000" stroke-width="3.6" stroke-linecap="round"/>
<line x1="302.1" y1="1083" x2="302.1" y2="1091" stroke="#000" stroke-width="2.6" stroke-linecap="round"/>
<line x1="357.8" y1="1083" x2="357.8" y2="1091" stroke="#000" stroke-width="2.6" stroke-linecap="round"/>
<line x1="397.3" y1="1083" x2="397.3" y2="1091" stroke="#000" stroke-width="2.6" stroke-linecap="round"/>
<line x1="427.9" y1="1083" x2="427.9" y2="1091" stroke="#000" stroke-width="2.6" stroke-linecap="round"/>
<line x1="452.9" y1="1083" x2="452.9" y2="1091" stroke="#000" stroke-width="2.6" stroke-linecap="round"/>
<line x1="474.1" y1="1083" x2="474.1" y2="1091" stroke="#000" stroke-width="2.6" stroke-linecap="round"/>
<line x1="492.4" y1="1083" x2="492.4" y2="1091" stroke="#000" stroke-width="2.6" stroke-linecap="round"/>
<line x1="508.5" y1="1083" x2="508.5" y2="1091" stroke="#000" stroke-width="2.6" stroke-linecap="round"/>
<line x1="523" y1="1083" x2="523" y2="1098" stroke="#000" stroke-width="3.6" stroke-linecap="round"/>
<line x1="618.1" y1="1083" x2="618.1" y2="1091" stroke="#000" stroke-width="2.6" stroke-linecap="round"/>
<line x1="673.8" y1="1083" x2="673.8" y2="1091" stroke="#000" stroke-width="2.6" stroke-linecap="round"/>
<line x1="713.3" y1="1083" x2="713.3" y2="1091" stroke="#000" stroke-width="2.6" stroke-linecap="round"/>
<line x1="743.9" y1="1083" x2="743.9" y2="1091" stroke="#000" stroke-width="2.6" stroke-linecap="round"/>
<line x1="768.9" y1="1083" x2="768.9" y2="1091" stroke="#000" stroke-width="2.6" stroke-linecap="round"/>
<line x1="790.1" y1="1083" x2="790.1" y2="1091" stroke="#000" stroke-width="2.6" stroke-linecap="round"/>
<line x1="808.4" y1="1083" x2="808.4" y2="1091" stroke="#000" stroke-width="2.6" stroke-linecap="round"/>
<line x1="824.5" y1="1083" x2="824.5" y2="1091" stroke="#000" stroke-width="2.6" stroke-linecap="round"/>
<line x1="839" y1="1083" x2="839" y2="1098" stroke="#000" stroke-width="3.6" stroke-linecap="round"/>
<line x1="934.1" y1="1083" x2="934.1" y2="1091" stroke="#000" stroke-width="2.6" stroke-linecap="round"/>
<line x1="989.8" y1="1083" x2="989.8" y2="1091" stroke="#000" stroke-width="2.6" stroke-linecap="round"/>
<line x1="1029.3" y1="1083" x2="1029.3" y2="1091" stroke="#000" stroke-width="2.6" stroke-linecap="round"/>
<line x1="1059.9" y1="1083" x2="1059.9" y2="1091" stroke="#000" stroke-width="2.6" stroke-linecap="round"/>
<line x1="1084.9" y1="1083" x2="1084.9" y2="1091" stroke="#000" stroke-width="2.6" stroke-linecap="round"/>
<line x1="1106.1" y1="1083" x2="1106.1" y2="1091" stroke="#000" stroke-width="2.6" stroke-linecap="round"/>
<line x1="1124.4" y1="1083" x2="1124.4" y2="1091" stroke="#000" stroke-width="2.6" stroke-linecap="round"/>
<line x1="1140.5" y1="1083" x2="1140.5" y2="1091" stroke="#000" stroke-width="2.6" stroke-linecap="round"/>
<line x1="1155" y1="1083" x2="1155" y2="1098" stroke="#000" stroke-width="3.6" stroke-linecap="round"/>
<line x1="1250.1" y1="1083" x2="1250.1" y2="1091" stroke="#000" stroke-width="2.6" stroke-linecap="round"/>
<line x1="1305.8" y1="1083" x2="1305.8" y2="1091" stroke="#000" stroke-width="2.6" stroke-linecap="round"/>
<line x1="1345.3" y1="1083" x2="1345.3" y2="1091" stroke="#000" stroke-width="2.6" stroke-linecap="round"/>
<line x1="1375.9" y1="1083" x2="1375.9" y2="1091" stroke="#000" stroke-width="2.6" stroke-linecap="round"/>
<line x1="1400.9" y1="1083" x2="1400.9" y2="1091" stroke="#000" stroke-width="2.6" stroke-linecap="round"/>
<line x1="1422.1" y1="1083" x2="1422.1" y2="1091" stroke="#000" stroke-width="2.6" stroke-linecap="round"/>
<line x1="1440.4" y1="1083" x2="1440.4" y2="1091" stroke="#000" stroke-width="2.6" stroke-linecap="round"/>
<line x1="1456.5" y1="1083" x2="1456.5" y2="1091" stroke="#000" stroke-width="2.6" stroke-linecap="round"/>
<line x1="1471" y1="1083" x2="1471" y2="1098" stroke="#000" stroke-width="3.6" stroke-linecap="round"/>
<text x="180" y="225.2" font-family="Liberation Serif, serif" font-size="58.5" text-anchor="end">3.0K</text>
<text x="180" y="520.2" font-family="Liberation Serif, serif" font-size="58.5" text-anchor="end">2.0K</text>
<text x="180" y="812.3" font-family="Liberation Serif, serif" font-size="58.5" text-anchor="end">1.0K</text>
<text x="179" y="1080.3" font-family="Liberation Serif, serif" font-size="58.5" text-anchor="end">0</text>
<text x="218.4" y="1176.2" font-family="Liberation Serif, serif" font-size="57">10</text>
<text x="275.4" y="1137.6" font-family="Liberation Serif, serif" font-size="57">0</text>
<text x="505.9" y="1176.2" font-family="Liberation Serif, serif" font-size="57">10</text>
<text x="562.9" y="1137.6" font-family="Liberation Serif, serif" font-size="57">1</text>
<text x="822.3" y="1176.2" font-family="Liberation Serif, serif" font-size="57">10</text>
<text x="879.3" y="1137.6" font-family="Liberation Serif, serif" font-size="57">2</text>
<text x="1138.5" y="1176.2" font-family="Liberation Serif, serif" font-size="57">10</text>
<text x="1195.5" y="1137.6" font-family="Liberation Serif, serif" font-size="57">3</text>
<text x="1387" y="1176.2" font-family="Liberation Serif, serif" font-size="57">10</text>
<text x="1444.0" y="1137.6" font-family="Liberation Serif, serif" font-size="57">4</text>
<text x="755" y="1233.8" font-family="Liberation Serif, serif" font-size="57.6" font-weight="bold" stroke="#fff" stroke-width="1.2">FL1-H</text>
<text transform="translate(38.4,616.6) rotate(-90)" x="0" y="0" font-family="Liberation Serif, serif" font-size="57.7" font-weight="bold" stroke="#fff" stroke-width="1.2">Count</text>
<rect x="1184.9" y="37.5" width="259.9" height="216.3" fill="#fff" stroke="#000" stroke-width="2.8"/>
<line x1="1262" y1="37.5" x2="1262" y2="253.8" stroke="#000" stroke-width="2.8"/>
<line x1="1184.9" y1="109.3" x2="1444.8" y2="109.3" stroke="#000" stroke-width="2.8"/>
<line x1="1184.9" y1="181.9" x2="1444.8" y2="181.9" stroke="#000" stroke-width="2.8"/>
<rect x="1200.7" y="50.7" width="42.6" height="40.4" fill="#fff" stroke="#00bfff" stroke-width="5"/>
<rect x="1204.7" y="54.7" width="34.6" height="32.4" fill="#ccf3ff"/>
<text x="1269.6" y="94.3" font-family="Liberation Serif, serif" font-size="58.3">control</text>
<rect x="1200.2" y="122.7" width="43.6" height="41.4" fill="#fff" stroke="#ff8a8a" stroke-width="4"/>
<rect x="1203.7" y="126.2" width="36.6" height="34.4" fill="#ffeeee"/>
<text x="1269.6" y="166.1" font-family="Liberation Serif, serif" font-size="58.3">4h</text>
<rect x="1200.7" y="195.8" width="42.6" height="40.4" fill="#fff" stroke="#ff4d00" stroke-width="5"/>
<rect x="1204.7" y="199.8" width="34.6" height="32.4" fill="#ffe4cc"/>
<text x="1269.6" y="238.7" font-family="Liberation Serif, serif" font-size="58.3">24h</text>
</g>
</svg>
</body></html>
